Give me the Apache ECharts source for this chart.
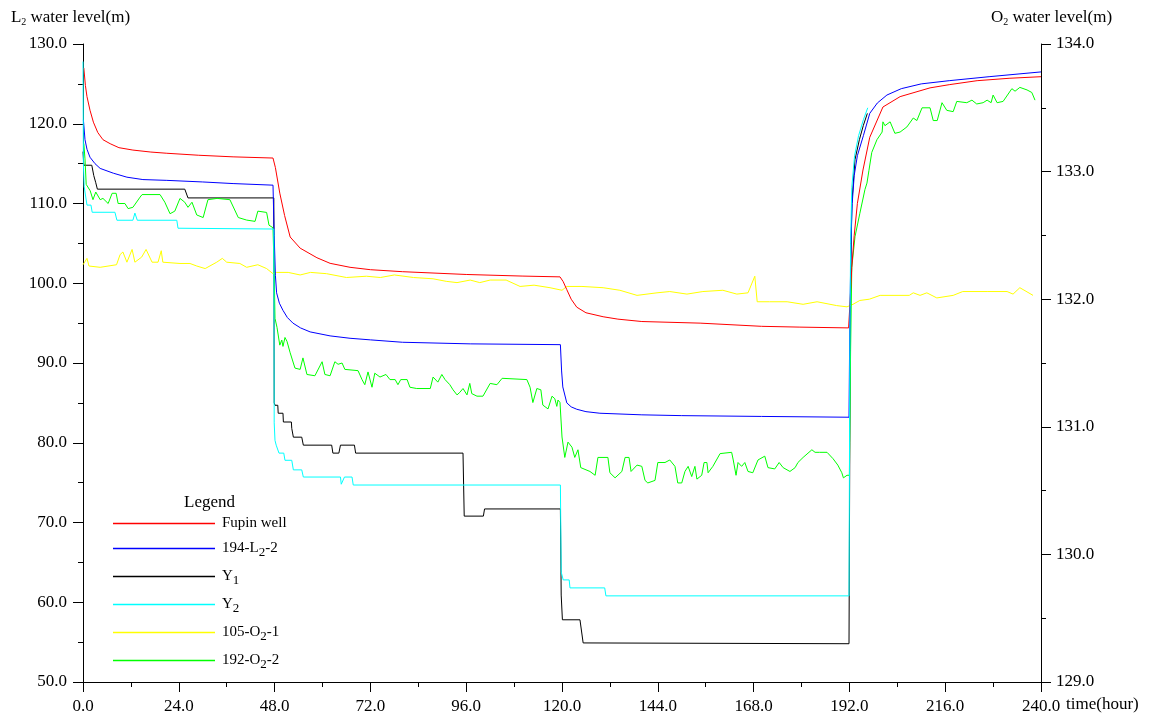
<!DOCTYPE html>
<html>
<head>
<meta charset="utf-8">
<script src="https://cdn.jsdelivr.net/npm/echarts@6/dist/echarts.min.js"></script>
<style>html,body{margin:0;padding:0;background:#fff}#c{width:1150px;height:720px}</style>
</head>
<body>
<div id="c"></div>
<script>
// time axis ticks (hours)
const xTicks = [0, 24, 48, 72, 96, 120, 144, 168, 192, 216, 240];
const leftTicks = [50, 60, 70, 80, 90, 100, 110, 120, 130];
const rightTicks = [129, 130, 131, 132, 133, 134];
const seriesNames = ['Fupin well', '194-L2-2', 'Y1', 'Y2', '105-O2-1', '192-O2-2'];

// L2 wells (left axis)  [time(hour), level(m)]
const fupin = [[0.2,127.0],[0.6,124.8],[1.0,123.4],[1.75,121.7],[2.6,120.2],[3.7,118.9],[5,118.0],[6.8,117.5],[9,117.0],[12.5,116.7],[17,116.45],[21,116.3],[29,116.05],[37.6,115.85],[47.6,115.7],[48.2,114.5],[49.3,111.3],[50.5,108.5],[51.9,105.8],[54.4,104.4],[58.6,103.2],[61.9,102.5],[66.9,102.0],[72,101.7],[80,101.45],[96,101.1],[110,100.9],[119.5,100.8],[120.3,100.2],[121.2,99.2],[122.3,98.0],[123.7,97.0],[126,96.3],[130.3,95.8],[134,95.5],[140,95.2],[154.6,95.0],[170,94.6],[179.6,94.5],[191.8,94.4],[192.2,98],[192.6,102],[193.2,106],[194,110],[195.4,114.2],[197.1,118.3],[200.4,122.1],[204.7,123.4],[212.2,124.5],[217,124.9],[224,125.4],[232,125.7],[240,125.9]];
const l2w194 = [[0.1,120.5],[0.5,118.0],[1.0,116.8],[1.75,115.8],[3,115.0],[4.3,114.4],[7.6,113.8],[11,113.3],[15,113.0],[21,112.9],[30,112.7],[37.6,112.5],[47.6,112.3],[47.9,106],[48.2,101],[48.5,98.8],[49.2,97.5],[50.1,96.6],[51.2,95.7],[52.6,95.0],[54.5,94.4],[56.9,93.9],[61.9,93.4],[66.9,93.1],[72,92.9],[80,92.6],[97,92.4],[119.6,92.3],[119.9,89],[120.2,87.0],[121.2,85.0],[122.3,84.5],[123.7,84.2],[126,83.9],[129.5,83.7],[140,83.5],[150,83.4],[170,83.3],[191.9,83.2],[192.1,95],[192.4,105],[192.7,110],[193.2,113.5],[194,116],[195.5,118.5],[197.1,121.3],[199,122.6],[201.4,123.6],[205,124.4],[210,125.0],[217,125.4],[227,125.9],[240,126.5]];
const y1 = [[0,116.5],[0.2,114.8],[2.2,114.8],[2.7,113.5],[3.2,112.6],[3.6,111.8],[25.5,111.8],[26.3,110.7],[47.8,110.7],[47.9,85.0],[48.1,84.7],[48.8,84.7],[48.9,83.7],[50.1,83.7],[50.2,82.6],[52.2,82.6],[52.3,81.8],[52.6,81.8],[52.7,80.7],[54.8,80.7],[55.2,79.7],[62.3,79.7],[62.6,78.7],[64.1,78.7],[64.5,79.7],[68.0,79.7],[68.3,78.7],[95.2,78.7],[95.5,70.8],[100.3,70.8],[100.6,71.7],[119.6,71.7],[119.8,60.9],[120.1,57.8],[124.5,57.8],[125.3,54.9],[191.9,54.8],[192.1,80],[192.3,100],[192.6,110],[193.4,115.5],[194.5,118],[195.5,119.8],[196.5,121.3]];
const y2 = [[0,127.8],[0.1,115],[0.3,112.1],[0.8,112.1],[1.0,109.8],[2.0,109.8],[2.3,108.9],[8.0,108.9],[8.5,107.9],[12.5,107.9],[13.0,108.8],[13.4,108.8],[13.6,107.9],[23.5,107.9],[23.8,106.9],[47.8,106.8],[47.9,82.5],[48.1,80.3],[48.4,79.7],[48.9,79.7],[49.1,78.7],[50.3,78.7],[50.6,77.8],[52.3,77.8],[52.7,76.6],[54.8,76.6],[55.2,75.7],[64.5,75.7],[64.7,74.8],[65.2,74.8],[65.5,75.7],[67.4,75.7],[67.7,74.7],[119.6,74.7],[119.8,63.8],[120.3,62.8],[121.8,62.8],[122,61.8],[130.7,61.8],[131,60.8],[191.9,60.8],[192.1,90],[192.3,105],[192.6,112],[193.3,116],[194.3,118.5],[195.5,120.5],[196.6,122.0]];

// O2 wells (right axis)
const o2w105 = [[0,132.27],[1,132.32],[1.5,132.26],[4.3,132.25],[8.4,132.27],[9.3,132.35],[10,132.37],[11,132.29],[12.3,132.39],[13,132.29],[14.7,132.33],[15.8,132.39],[17.3,132.29],[18.8,132.29],[19.6,132.38],[20,132.29],[24.3,132.28],[26.8,132.28],[28.5,132.26],[30.6,132.24],[33.5,132.29],[34.9,132.32],[36,132.29],[39.3,132.28],[41,132.25],[43.8,132.27],[46,132.24],[47.6,132.2],[48.5,132.21],[51.4,132.21],[54.4,132.19],[57,132.21],[61,132.2],[66,132.17],[71,132.18],[74.5,132.17],[78,132.19],[82.8,132.17],[87.7,132.16],[91,132.14],[93.7,132.13],[97,132.15],[99.4,132.13],[102,132.15],[106,132.15],[109.5,132.1],[113,132.11],[117,132.09],[120,132.07],[121.2,132.1],[125,132.1],[130.3,132.09],[134.5,132.07],[138.8,132.03],[143.8,132.05],[147,132.06],[151.3,132.04],[155.3,132.06],[160.3,132.07],[163.8,132.04],[166.6,132.05],[168.3,132.18],[168.9,131.98],[172,131.98],[176.4,131.98],[180.4,131.96],[183.9,131.98],[188.8,131.95],[191.4,131.94],[192.9,131.96],[194.6,131.99],[197,132.0],[199.7,132.03],[207,132.03],[208,132.05],[209.7,132.03],[211.4,132.05],[213.9,132.01],[218,132.03],[220.4,132.06],[226.5,132.06],[231.5,132.06],[233,132.04],[234.7,132.09],[238,132.03]];
const o2w192 = [[0.2,133.22],[0.5,133.1],[0.8,132.9],[1.3,132.9],[1.8,132.85],[2.5,132.78],[3.2,132.84],[4.3,132.78],[5,132.79],[6.3,132.75],[7.3,132.83],[8.3,132.83],[8.8,132.75],[10.5,132.75],[11.3,132.71],[12.5,132.72],[14.3,132.80],[14.8,132.82],[19.3,132.82],[20.5,132.76],[21.8,132.67],[23,132.69],[24.3,132.79],[25.5,132.76],[26.3,132.72],[27.3,132.76],[28.5,132.66],[30.1,132.64],[31.3,132.78],[33.6,132.79],[36.8,132.78],[38.9,132.64],[41,132.62],[43.1,132.61],[43.8,132.69],[46,132.68],[46.6,132.58],[47.6,132.56],[47.9,132.2],[48.1,131.85],[48.6,131.78],[49.3,131.64],[49.8,131.68],[50.1,131.63],[50.6,131.70],[51.1,131.67],[51.9,131.58],[53.1,131.46],[54.4,131.45],[55.1,131.54],[56.1,131.41],[58.1,131.40],[59.9,131.51],[60.6,131.41],[61.9,131.40],[63.1,131.51],[63.9,131.49],[64.9,131.50],[65.6,131.45],[68.9,131.44],[69.9,131.37],[70.6,131.33],[71.4,131.43],[72.4,131.31],[73.1,131.42],[74.4,131.39],[75.9,131.41],[76.9,131.37],[78.2,131.37],[78.9,131.33],[79.6,131.37],[81.2,131.37],[81.9,131.31],[83.6,131.30],[87,131.30],[87.7,131.39],[88.9,131.35],[89.9,131.41],[90.7,131.37],[91.9,131.33],[92.7,131.29],[93.7,131.25],[94.4,131.27],[95.2,131.30],[96.2,131.25],[96.9,131.34],[97.4,131.26],[98.7,131.24],[100.2,131.24],[102,131.34],[103.7,131.33],[105,131.38],[111.2,131.37],[112,131.31],[112.7,131.19],[113.7,131.30],[114.7,131.29],[115.2,131.17],[116.5,131.14],[117.5,131.24],[118.2,131.22],[118.7,131.16],[119,131.21],[119.5,131.19],[120,130.92],[120.7,130.76],[121.5,130.88],[122.5,130.84],[123.2,130.76],[124,130.82],[124.7,130.68],[127,130.65],[128.3,130.62],[129,130.76],[131.5,130.76],[132,130.64],[133.3,130.60],[135,130.65],[135.8,130.76],[136.8,130.76],[137.3,130.65],[138.8,130.70],[140,130.69],[140.8,130.58],[141.5,130.56],[143.3,130.58],[144,130.72],[145.8,130.72],[147,130.74],[148.3,130.69],[149,130.56],[150,130.56],[150.8,130.65],[151.6,130.69],[152.5,130.61],[153.3,130.69],[153.8,130.59],[155,130.62],[155.6,130.72],[156.3,130.72],[156.6,130.64],[157.8,130.69],[159.6,130.79],[162.5,130.80],[162.9,130.74],[163.6,130.62],[164.1,130.72],[165,130.69],[165.8,130.72],[166.6,130.65],[167.8,130.64],[169.1,130.74],[170.8,130.77],[171.6,130.68],[173.3,130.67],[174.4,130.72],[175.4,130.68],[177.1,130.65],[178.4,130.68],[179.1,130.72],[180.4,130.76],[182.6,130.82],[183.4,130.80],[184.5,130.80],[186.4,130.80],[187.9,130.75],[189.1,130.70],[190.1,130.64],[190.5,130.60],[191.4,130.62],[192,130.62],[192.3,131.6],[192.6,132.25],[193.4,132.49],[194.6,132.67],[195.9,132.86],[196.4,132.91],[196.9,133.01],[197.6,133.15],[198.9,133.25],[200.2,133.31],[200.4,133.39],[200.9,133.36],[202.2,133.39],[203.4,133.30],[204.7,133.31],[206.4,133.35],[208,133.42],[208.9,133.40],[210.2,133.50],[212.2,133.50],[213,133.40],[214,133.40],[215.2,133.54],[216.4,133.48],[218,133.47],[218.9,133.55],[221.4,133.54],[222.7,133.56],[223.9,133.53],[225.5,133.54],[226.5,133.56],[227.5,133.54],[228,133.60],[229,133.54],[230.5,133.55],[232.7,133.65],[233.5,133.63],[234.7,133.66],[236.5,133.64],[237.7,133.62],[238.5,133.56]];

const FONT = 'Liberation Serif';
const colors = ['#ff0000', '#0000ff', '#000000', '#00ffff', '#ffff00', '#00ff00'];
const dataList = [fupin, l2w194, y1, y2, o2w105, o2w192];
const axisIdx = [0, 0, 0, 0, 1, 1];

const legendLabels = {
  'Fupin well': '{n|Fupin well}',
  '194-L2-2': '{n|194-L}{s|2}{n|-2}',
  'Y1': '{n|Y}{s|1}',
  'Y2': '{n|Y}{s|2}',
  '105-O2-1': '{n|105-O}{s|2}{n|-1}',
  '192-O2-2': '{n|192-O}{s|2}{n|-2}'
};

const chart = echarts.init(document.getElementById('c'), null, {renderer: 'canvas'});
const axisCommon = {
  type: 'value',
  splitLine: {show: false},
  axisLine: {show: true, onZero: false, lineStyle: {color: '#000', width: 1}},
  axisTick: {show: true, length: 10, lineStyle: {color: '#000'}},
  minorTick: {show: true, splitNumber: 2, length: 5, lineStyle: {color: '#000'}},
  minorSplitLine: {show: false},
  axisLabel: {color: '#000', fontFamily: FONT, fontSize: 17, formatter: v => v.toFixed(1)}
};
const nameRich = {
  n: {fontFamily: FONT, fontSize: 17, color: '#000', lineHeight: 20},
  s: {fontFamily: FONT, fontSize: 10, color: '#000', lineHeight: 12, padding: [8, 0, 0, 0]}
};

chart.setOption({
  animation: false,
  backgroundColor: '#fff',
  title: {
    text: 'Legend', left: 179, top: 489,
    textStyle: {fontFamily: FONT, fontSize: 17, fontWeight: 'normal', color: '#000'}
  },
  legend: {
    orient: 'vertical', left: 108, top: 511,
    icon: 'rect', itemWidth: 102, itemHeight: 1.5, itemGap: 7,
    data: seriesNames,
    formatter: name => legendLabels[name],
    textStyle: {
      fontFamily: FONT, fontSize: 15, color: '#000', padding: [0, 0, 0, 2],
      rich: {
        n: {fontFamily: FONT, fontSize: 15, color: '#000', lineHeight: 20},
        s: {fontFamily: FONT, fontSize: 13, color: '#000', lineHeight: 12, padding: [8, 0, 0, 0]}
      }
    }
  },
  grid: {left: 83, right: 109, top: 44, bottom: 38, containLabel: false},
  xAxis: Object.assign({}, axisCommon, {
    min: xTicks[0], max: xTicks[xTicks.length - 1], interval: 24,
    name: 'time(hour)', nameLocation: 'end', nameGap: 19,
    nameTextStyle: {fontFamily: FONT, fontSize: 17, color: '#000', verticalAlign: 'top', padding: [14, 0, 0, 0]},
    axisLabel: Object.assign({}, axisCommon.axisLabel, {margin: 16})
  }),
  yAxis: [
    Object.assign({}, axisCommon, {
      position: 'left', min: leftTicks[0], max: leftTicks[leftTicks.length - 1], interval: 10,
      name: '{n|L}{s|2}{n| water level(m)}', nameLocation: 'end', nameGap: 16,
      nameTextStyle: {padding: [0, 25, 0, 0], rich: nameRich},
      axisLabel: Object.assign({}, axisCommon.axisLabel, {margin: 16})
    }),
    Object.assign({}, axisCommon, {
      position: 'right', min: rightTicks[0], max: rightTicks[rightTicks.length - 1], interval: 1,
      name: '{n|O}{s|2}{n| water level(m)}', nameLocation: 'end', nameGap: 16,
      nameTextStyle: {padding: [0, 0, 0, 21], rich: nameRich},
      axisLabel: Object.assign({}, axisCommon.axisLabel, {margin: 15})
    })
  ],
  series: seriesNames.map((n, i) => ({
    name: n, type: 'line', yAxisIndex: axisIdx[i], data: dataList[i],
    symbol: 'none', showSymbol: false, smooth: false,
    lineStyle: {color: colors[i], width: 1},
    itemStyle: {color: colors[i]},
    z: [3, 3, 2, 4, 2, 2][i]
  }))
});
</script>
</body>
</html>
